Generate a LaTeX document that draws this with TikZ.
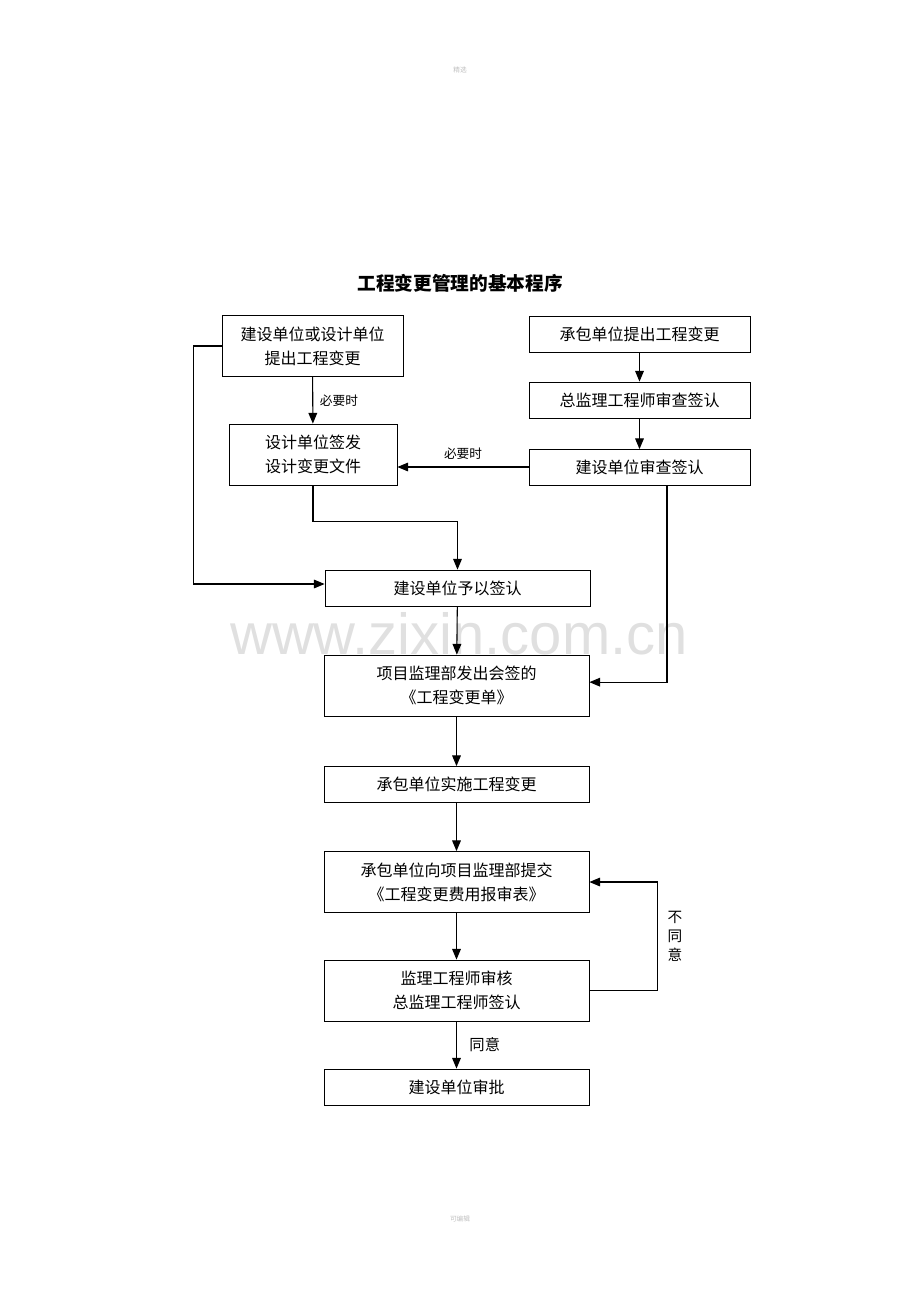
\documentclass[tikz,border=0pt]{standalone}
\usepackage{fontspec}
\setmainfont{Noto Sans CJK SC}
\newfontfamily\wmfont{Liberation Sans}
\usetikzlibrary{arrows.meta}

\begin{document}
\begin{tikzpicture}[x=0.75pt,y=-0.75pt,
  box/.style={draw,line width=0.6pt,minimum height=27pt,inner sep=0pt,align=center,
    font=\fontsize{12pt}{18pt}\selectfont},
  tall/.style={minimum height=45.75pt},
  flow/.style={line width=0.8pt,-{Triangle[length=8pt,width=6.5pt]}},
  note/.style={font=\fontsize{9.5pt}{11pt}\selectfont,inner sep=2pt}]
\useasboundingbox (0,0) rectangle (920,1302);
% page marks and watermark
\node[text=black!25,font=\fontsize{5pt}{6pt}\selectfont] (top) at (460,70) {精选};
\node[text=black!25,font=\fontsize{5pt}{6pt}\selectfont] (bottom) at (460,1219) {可编辑};
\node[text=black!12,font=\wmfont\fontsize{43.5pt}{45pt}\selectfont] (mark) at (459,634) {www.zixin.com.cn};
\node[font=\fontsize{14pt}{16pt}\selectfont\bfseries] (title) at (460,283) {工程变更管理的基本程序};
% left column
\node[box,tall,minimum width=135.75pt] (propose) at (312.5,346) {建设单位或设计单位\\提出工程变更};
\node[box,tall,minimum width=126pt] (design) at (313,454.5) {设计单位签发\\设计变更文件};
% right column
\node[box,minimum width=165.75pt] (contractor) at (639.5,334) {承包单位提出工程变更};
\node[box,minimum width=165.75pt] (chief) at (639.5,400) {总监理工程师审查签认};
\node[box,minimum width=165.75pt] (owner) at (639.5,467.5) {建设单位审查签认};
% main column
\node[box,minimum width=198.75pt] (sign) at (457.5,588) {建设单位予以签认};
\node[box,tall,minimum width=198.75pt] (issue) at (456.5,685.5) {项目监理部发出会签的\\《工程变更单》};
\node[box,minimum width=198.75pt] (build) at (456.5,784.5) {承包单位实施工程变更};
\node[box,tall,minimum width=198.75pt] (submit) at (456.5,882) {承包单位向项目监理部提交\\《工程变更费用报审表》};
\node[box,tall,minimum width=198.75pt] (review) at (456.5,990.5) {监理工程师审核\\总监理工程师签认};
\node[box,minimum width=198.75pt] (approve) at (456.5,1087) {建设单位审批};
% connectors
\draw[flow] (propose) -- node[note,right=3pt] {必要时} (design);
\draw[flow] (contractor) -- (chief);
\draw[flow] (chief) -- (owner);
\draw[flow] (owner.west |- 0,467) -- node[note,above=3pt] {必要时} (design.east |- 0,467);
\draw[flow] (design.south) -- ++(0,36) -| (sign.north);
\draw[flow] (propose.west) -- ++(-28,0) |- ([yshift=3pt]sign.west);
\draw[flow] ([xshift=20.6pt]owner.south) |- ([yshift=2.5pt]issue.east);
\draw[flow] (sign) -- (issue);
\draw[flow] (issue) -- (build);
\draw[flow] (build) -- (submit);
\draw[flow] (submit) -- (review);
\draw[flow] (review.east) -- ++(68,0) |- node[pos=0.25,right=4pt,align=center,
  font=\fontsize{11pt}{14pt}\selectfont] {不\\同\\意} (submit.east);
\draw[flow] (review) -- node[right=6pt,font=\fontsize{11.5pt}{14pt}\selectfont] {同意} (approve);
\end{tikzpicture}
\end{document}
